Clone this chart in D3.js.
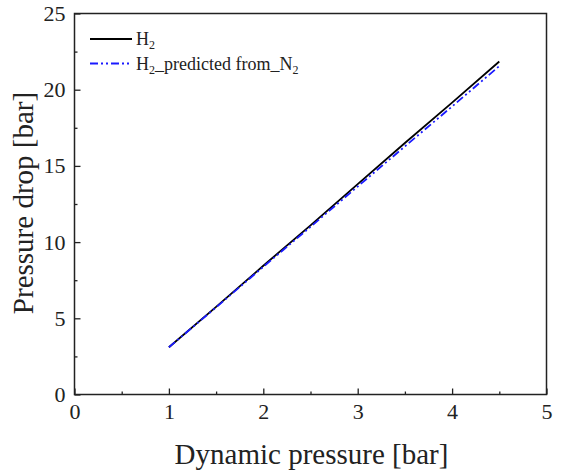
<!DOCTYPE html>
<html>
<head>
<meta charset="utf-8">
<script src="https://cdn.jsdelivr.net/npm/d3@7"></script>
<style>
  html, body { margin: 0; padding: 0; background: #fff; }
  svg { display: block; }
  svg text { font-family: "Liberation Serif", serif; }
</style>
</head>
<body>
<svg id="chart" width="562" height="474"></svg>
<script>
const FONT = "Liberation Serif";

// Measured H2 pressure drop vs. dynamic pressure
const dynamicPressure = [1.0, 1.5, 2.0, 2.5, 3.0, 3.5, 4.0, 4.5];
const h2Measured      = [3.1, 5.75, 8.45, 11.1, 13.8, 16.5, 19.15, 21.85];
// H2 pressure drop predicted from the N2 measurements
const h2Predicted     = [3.1, 5.72, 8.38, 11.0, 13.65, 16.28, 18.9, 21.55];

const xTicks = [0, 1, 2, 3, 4, 5];
const yTicks = [0, 5, 10, 15, 20, 25];
const xMinorTicks = [0.5, 1.5, 2.5, 3.5, 4.5];
const yMinorTicks = [2.5, 7.5, 12.5, 17.5, 22.5];

const series = [
  { name: "H", sub: "2", tail: "", values: h2Measured, color: "#000000", dash: null },
  { name: "H", sub: "2", tail: "_predicted from_N", tailSub: "2", values: h2Predicted, color: "#1a1aff", dash: "8,3,2,3,2,3" }
];

const svg = d3.select("#chart");
const margin = { left: 74.5, right: 15.5, top: 13.5, bottom: 79.5 };
const W = 562, H = 474;

const x = d3.scaleLinear().domain([0, 5]).range([margin.left, W - margin.right]);
const y = d3.scaleLinear().domain([0, 25]).range([H - margin.bottom, margin.top]);

// Frame
svg.append("rect")
  .attr("x", x(0)).attr("y", y(25))
  .attr("width", x(5) - x(0)).attr("height", y(0) - y(25))
  .attr("fill", "none").attr("stroke", "#222").attr("stroke-width", 1.5);

// Axes with inward ticks
const xAxis = svg.append("g").attr("transform", `translate(0,${y(0)})`)
  .call(d3.axisBottom(x).tickValues(xTicks).tickSize(-6).tickPadding(9).tickFormat(d3.format("d")));
const xMinor = svg.append("g").attr("transform", `translate(0,${y(0)})`)
  .call(d3.axisBottom(x).tickValues(xMinorTicks).tickSize(-3).tickFormat(""));
const yAxis = svg.append("g").attr("transform", `translate(${x(0)},0)`)
  .call(d3.axisLeft(y).tickValues(yTicks).tickSize(-6).tickPadding(9).tickFormat(d3.format("d")));
const yMinor = svg.append("g").attr("transform", `translate(${x(0)},0)`)
  .call(d3.axisLeft(y).tickValues(yMinorTicks).tickSize(-3).tickFormat(""));

[xAxis, xMinor, yAxis, yMinor].forEach(g => {
  g.attr("font-family", FONT).attr("font-size", 22);
  g.select(".domain").remove();
  g.selectAll(".tick line").attr("stroke", "#222").attr("stroke-width", 1.3);
  g.selectAll(".tick text").attr("fill", "#222")
    .style("font-family", "'Liberation Serif', serif").style("font-size", "22px");
});

// Axis titles
svg.append("text")
  .attr("x", (x(0) + x(5)) / 2 + 1).attr("y", 464)
  .attr("text-anchor", "middle").attr("fill", "#222")
  .attr("font-family", FONT).attr("font-size", 29)
  .text("Dynamic pressure [bar]");

svg.append("text")
  .attr("transform", `translate(33,${(y(0) + y(25)) / 2 - 1}) rotate(-90)`)
  .attr("text-anchor", "middle").attr("fill", "#222")
  .attr("font-family", FONT).attr("font-size", 29)
  .text("Pressure drop [bar]");

// Lines
const line = d3.line().x((d, i) => x(dynamicPressure[i])).y(d => y(d));
series.forEach(s => {
  svg.append("path")
    .datum(s.values)
    .attr("d", line)
    .attr("fill", "none")
    .attr("stroke", s.color)
    .attr("stroke-width", 1.8)
    .attr("stroke-dasharray", s.dash);
});

// Legend
const legend = svg.append("g").attr("transform", "translate(90,39)");
series.forEach((s, i) => {
  const g = legend.append("g").attr("transform", `translate(0,${i * 24.5})`);
  g.append("line").attr("x1", 0).attr("x2", 42).attr("y1", 0).attr("y2", 0)
    .attr("stroke", s.color).attr("stroke-width", 1.8)
    .attr("stroke-dasharray", s.dash);
  const t = g.append("text").attr("x", 46).attr("y", 6).attr("fill", "#222")
    .attr("font-family", FONT).attr("font-size", 18);
  t.append("tspan").text(s.name);
  t.append("tspan").attr("dy", 4).attr("font-size", 12).text(s.sub);
  if (s.tail) {
    t.append("tspan").attr("dy", -4).text(s.tail);
    t.append("tspan").attr("dy", 4).attr("font-size", 12).text(s.tailSub);
  }
});
</script>
</body>
</html>
